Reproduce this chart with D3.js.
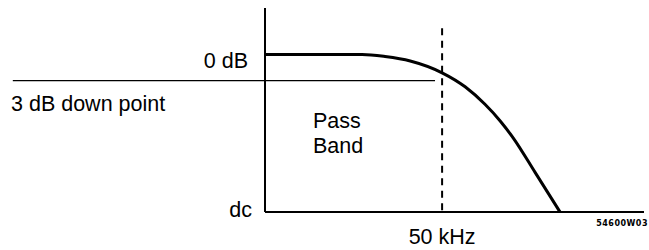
<!DOCTYPE html>
<html>
<head>
<meta charset="utf-8">
<script src="https://cdn.jsdelivr.net/npm/d3@7"></script>
<style>
  body { margin: 0; background: #fff; }
  text { font-family: "Liberation Sans", Arial, sans-serif; fill: #000; }
</style>
</head>
<body>
<div id="chart"></div>
<script>
// response curve, frequency in kHz (approx) vs attenuation in dB
const freq = [0, 27.4, 33.9, 41.0, 50.0, 56.5, 62.1, 66.4, 70.1, 76.3, 83.3];
const gain = [0, 0, -0.24, -0.75, -2.1, -3.7, -5.7, -7.6, -9.55, -13.5, -18];
const cutoff = 50;          // kHz
const downPoint = -3;       // dB
const passLabel = ["Pass", "Band"];

const width = 649;
const height = 250;
const fontSize = "21.5px";

const svg = d3.select("#chart")
    .append("svg")
    .attr("width", width)
    .attr("height", height);

// scales
const x = d3.scaleLinear()
    .domain([0, 107])
    .range([265, 644]);

const y = d3.scaleLinear()
    .domain([-18, 5.3])
    .range([212, 8]);

// 3 dB reference line (reaches out to the left label)
svg.append("line")
    .attr("x1", x(-71.2))
    .attr("x2", x(48))
    .attr("y1", y(downPoint))
    .attr("y2", y(downPoint))
    .attr("stroke", "#000")
    .attr("stroke-width", 1.3);

// cutoff marker
svg.append("line")
    .attr("x1", x(cutoff))
    .attr("x2", x(cutoff))
    .attr("y1", y(3))
    .attr("y2", y(-18))
    .attr("stroke", "#000")
    .attr("stroke-width", 2)
    .attr("stroke-dasharray", "7,5.5");

// axes
svg.append("line")
    .attr("x1", x(0)).attr("x2", x(0))
    .attr("y1", y(5.3)).attr("y2", y(-18))
    .attr("stroke", "#000")
    .attr("stroke-width", 2);

svg.append("line")
    .attr("x1", x(0)).attr("x2", x(107))
    .attr("y1", y(-18)).attr("y2", y(-18))
    .attr("stroke", "#000")
    .attr("stroke-width", 2);

// response curve
const pts = freq.map((f, i) => [f, gain[i]]);
const line = d3.line()
    .x(d => x(d[0]))
    .y(d => y(d[1]))
    .curve(d3.curveMonotoneX);

svg.append("path")
    .datum(pts)
    .attr("d", line)
    .attr("fill", "none")
    .attr("stroke", "#000")
    .attr("stroke-width", 3);

// labels
svg.append("text")
    .attr("x", x(0) - 17)
    .attr("y", y(0) + 14)
    .attr("text-anchor", "end")
    .style("font-size", fontSize)
    .text("0 dB");

svg.append("text")
    .attr("x", 11)
    .attr("y", y(downPoint) + 30)
    .style("font-size", fontSize)
    .text("3 dB down point");

svg.append("text")
    .attr("x", x(0) - 13)
    .attr("y", y(-18) + 5)
    .attr("text-anchor", "end")
    .style("font-size", fontSize)
    .text("dc");

svg.append("text")
    .attr("x", x(cutoff))
    .attr("y", 244)
    .attr("text-anchor", "middle")
    .style("font-size", fontSize)
    .text(cutoff + " kHz");

svg.selectAll(".pass")
    .data(passLabel)
    .enter()
    .append("text")
    .attr("class", "pass")
    .attr("x", 313)
    .attr("y", (d, i) => 128 + i * 25)
    .style("font-size", fontSize)
    .text(d => d);

svg.append("text")
    .attr("x", 648)
    .attr("y", 226)
    .attr("text-anchor", "end")
    .style("font-family", "DejaVu Sans")
    .style("font-size", "8px")
    .style("font-weight", "bold")
    .attr("letter-spacing", 0.5)
    .text("54600W03");
</script>
</body>
</html>
